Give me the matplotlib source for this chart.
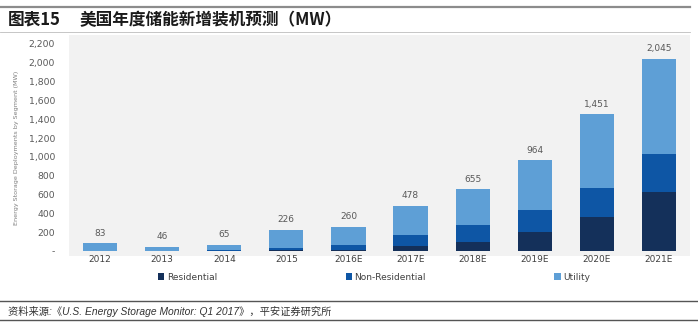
import numpy as np
import matplotlib
matplotlib.use("Agg")
import matplotlib.pyplot as plt
from matplotlib.patches import Rectangle
from matplotlib.lines import Line2D

# data (MW)
years = ["2012", "2013", "2014", "2015", "2016E", "2017E", "2018E", "2019E", "2020E", "2021E"]
residential = [1, 1, 2, 6, 15, 50, 96, 206, 366, 630]
non_residential = [4, 3, 6, 22, 50, 125, 180, 228, 306, 405]
utility = [78, 42, 57, 198, 195, 303, 379, 530, 779, 1010]
totals = [83, 46, 65, 226, 260, 478, 655, 964, 1451, 2045]
y_ticks = [0, 200, 400, 600, 800, 1000, 1200, 1400, 1600, 1800, 2000, 2200]

C_RES = "#14305a"
C_NONRES = "#0e56a5"
C_UTIL = "#5e9fd6"

W, H = 698, 329
fig = plt.figure(figsize=(W / 100, H / 100), dpi=100)

def fx(px):
    return px / W

def fy(py):
    return 1 - py / H

# header / footer rules
fig.add_artist(Line2D([0, fx(690)], [fy(7), fy(7)], color="#8c8c8c", lw=1.6))
fig.add_artist(Line2D([0, fx(690)], [fy(32), fy(32)], color="#bdbdbd", lw=0.6))
fig.add_artist(Line2D([0, 1], [fy(301), fy(301)], color="#555555", lw=1.0))
fig.add_artist(Line2D([0, 1], [fy(320), fy(320)], color="#555555", lw=1.0))

fig.text(fx(8), fy(20), "图表15", fontsize=12, fontweight="bold",
         family=["Noto Sans CJK SC", "DejaVu Sans"], va="center", color="#1a1a1a")
fig.text(fx(80), fy(20), "美国年度储能新增装机预测（MW）", fontsize=12, fontweight="bold",
         family=["Noto Sans CJK SC", "DejaVu Sans"], va="center", color="#1a1a1a")

fig.text(fx(8), fy(311), "资料来源:《U.S. Energy Storage Monitor: Q1 2017》，平安证券研究所",
         fontsize=7.4, style="italic", family=["Liberation Sans", "Noto Sans CJK SC"],
         va="center", color="#333333")

# chart area background
fig.add_artist(Rectangle((fx(69), fy(256)), fx(690) - fx(69), fy(35) - fy(256),
                         transform=fig.transFigure, facecolor="#f2f2f2", edgecolor="none", zorder=0))

# axes: 0 at y=251px, 2200 at y=44px
ax = fig.add_axes([fx(69), fy(251), fx(690) - fx(69), fy(44) - fy(251)])
ax.set_facecolor("none")
x = np.arange(len(years))
bw = 0.55
res = np.array(residential)
nonres = np.array(non_residential)
util = np.array(utility)
ax.bar(x, res, bw, color=C_RES, label="Residential")
ax.bar(x, nonres, bw, bottom=res, color=C_NONRES, label="Non-Residential")
ax.bar(x, util, bw, bottom=res + nonres, color=C_UTIL, label="Utility")

for i, t in enumerate(totals):
    ax.annotate(f"{t:,}", (x[i], res[i] + nonres[i] + util[i]), xytext=(0, 4),
                textcoords="offset points", ha="center", va="bottom",
                fontsize=6.5, color="#595959")

ax.set_xlim(-0.5, len(years) - 0.5)
ax.set_ylim(0, 2200)
ax.set_yticks(y_ticks)
ax.set_yticklabels(["-"] + [f"{v:,}" for v in y_ticks[1:]], fontsize=6.7, color="#595959")
ax.set_xticks(x)
ax.set_xticklabels(years, fontsize=6.5, color="#404040")
ax.tick_params(axis="both", length=0)
ax.tick_params(axis="y", pad=10)
ax.tick_params(axis="x", pad=3)
for s in ax.spines.values():
    s.set_visible(False)

fig.text(fx(17), fy(148), "Energy Storage Deployments by Segment (MW)", rotation=90,
         fontsize=4.6, color="#7f7f7f", ha="center", va="center")

handles, labels = ax.get_legend_handles_labels()
fig.legend(handles, labels, loc="center left", bbox_to_anchor=(fx(150), fy(277)),
           ncol=3, frameon=False, fontsize=6.5, labelcolor="#404040",
           handlelength=0.7, handleheight=0.7, handletextpad=0.3, columnspacing=14.2)

fig.savefig("out.png", dpi=100, facecolor="white")
